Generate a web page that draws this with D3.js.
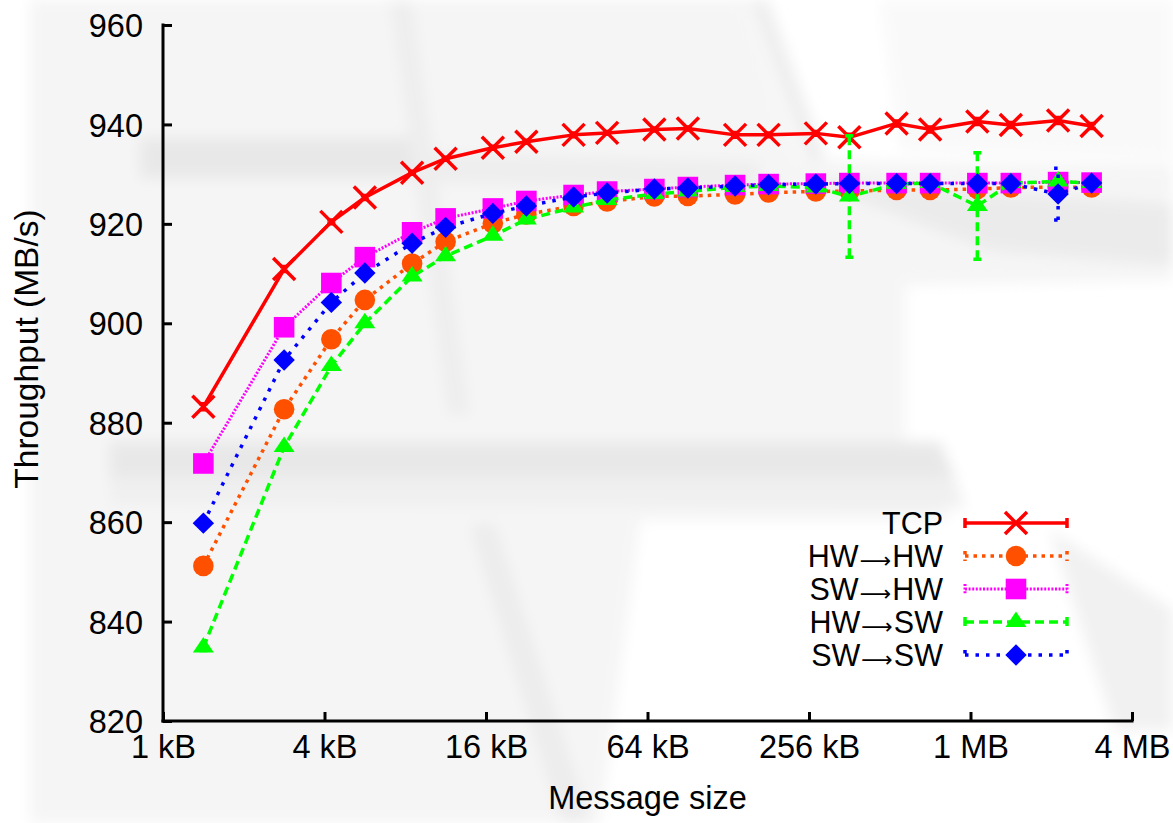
<!DOCTYPE html>
<html>
<head>
<meta charset="utf-8">
<script src="https://cdn.jsdelivr.net/npm/d3@7"></script>
<style>
  html, body { margin: 0; padding: 0; background: #ffffff; }
  svg { display: block; }
  text { font-family: "Liberation Sans", Arial, Helvetica, sans-serif; fill: #000; }
  .arrow { font-family: "DejaVu Sans", sans-serif; }
</style>
</head>
<body>
<svg id="chart" width="1173" height="823"></svg>
<script>
// Message sizes in bytes (multiples of one 1448-byte segment)
const messageSize = [1448, 2896, 4344, 5792, 8688, 11584, 17376, 23168, 34752, 46336, 69504,
  92672, 139008, 185344, 278016, 370688, 556032, 741376, 1112064, 1482752, 2224128, 2965504];

// Throughput in MB/s
const tcp   = [883.2, 910.9, 920.4, 925.3, 930.3, 933.1, 935.3, 936.5, 937.9, 938.3, 939.0,
  939.2, 937.9, 937.9, 938.2, 937.4, 940.2, 939.0, 940.6, 939.9, 940.8, 939.7];
const hwHw  = [851.2, 882.7, 896.8, 904.7, 912.0, 916.4, 920.1, 921.9, 923.6, 924.5, 925.5,
  925.6, 925.9, 926.3, 926.5, 926.6, 926.8, 926.8, 927.0, 927.3, 927.4, 927.3];
const swHw  = [871.8, 899.2, 908.1, 913.3, 918.3, 921.1, 923.1, 924.6, 925.8, 926.5, 927.0,
  927.4, 927.8, 928.0, 928.1, 928.2, 928.2, 928.2, 928.2, 928.2, 928.4, 928.3];
const hwSw  = [834.8, 875.1, 891.4, 900.0, 909.4, 913.5, 917.6, 920.9, 923.3, 924.8, 926.0,
  926.5, 927.4, 927.6, 927.3, 925.5, 928.0, 928.2, 923.6, 928.2, 928.5, 928.2];
const swSw  = [859.8, 892.6, 904.2, 910.1, 916.1, 919.3, 922.1, 923.6, 925.4, 926.2, 927.0,
  927.2, 927.6, 927.9, 928.0, 928.1, 928.1, 928.1, 928.1, 928.1, 926.0, 928.2];

// Standard deviation (MB/s) per point
const tcpErr  = [0.6, 0.5, 0.4, 0.4, 0.3, 0.3, 0.3, 0.3, 0.4, 0.3, 0.3,
  0.3, 0.5, 0.4, 0.4, 0.6, 0.5, 0.5, 0.6, 0.5, 0.6, 0.5];
const hwHwErr = [0.5, 0.4, 0.4, 0.3, 0.3, 0.3, 0.3, 0.3, 0.3, 0.3, 0.3,
  0.3, 0.3, 0.3, 0.3, 0.3, 0.3, 0.3, 0.4, 0.3, 0.3, 0.3];
const swHwErr = [0.5, 0.4, 0.4, 0.3, 0.3, 0.3, 0.3, 0.3, 0.3, 0.3, 0.3,
  0.3, 0.3, 0.3, 0.3, 0.3, 0.3, 0.3, 0.3, 0.3, 0.3, 0.3];
const hwSwErr = [0.6, 0.5, 0.4, 0.4, 0.3, 0.3, 0.3, 0.3, 0.3, 0.3, 0.3,
  0.3, 0.3, 0.3, 0.4, 12.2, 0.3, 0.3, 10.7, 0.3, 0.5, 0.3];
const swSwErr = [0.5, 0.4, 0.4, 0.3, 0.3, 0.3, 0.3, 0.3, 0.3, 0.3, 0.3,
  0.3, 0.3, 0.3, 0.3, 0.3, 0.3, 0.3, 0.3, 0.3, 5.2, 0.3];

// Legend labels: source and destination joined by an arrow
const seriesFrom = ["TCP", "HW", "SW", "HW", "SW"];
const seriesTo   = [null,  "HW", "HW", "SW", "SW"];

const xTickValues = [1024, 4096, 16384, 65536, 262144, 1048576, 4194304];
const xTickLabels = ["1 kB", "4 kB", "16 kB", "64 kB", "256 kB", "1 MB", "4 MB"];
const yTickValues = [820, 840, 860, 880, 900, 920, 940, 960];

const xTitle = "Message size";
const yTitle = "Throughput (MB/s)";

// ---------------------------------------------------------------------------
const svg = d3.select("#chart");
const plot = { left: 163, right: 1132, top: 25, bottom: 721 };
const fontSize = 32.5;

const x = d3.scaleLog().base(2).domain([1024, 4194304]).range([plot.left, plot.right]);
const y = d3.scaleLinear().domain([820, 960]).range([plot.bottom, plot.top]);

// Faded backdrop: soft grey planes and shadows
const defs = svg.append("defs");
defs.append("filter").attr("id", "soft").attr("x", "-10%").attr("y", "-10%")
  .attr("width", "120%").attr("height", "120%")
  .append("feGaussianBlur").attr("stdDeviation", 7);

const backdrop = [
  { fill: "#f5f5f5", pts: [[30,0],[745,0],[800,160],[1173,165],[1173,280],[905,285],[905,440],[950,520],[640,520],[600,823],[30,823]] },
  { fill: "#f9f9f9", pts: [[880,0],[1173,0],[1173,160],[900,150]] },
  { fill: "#e8e8e8", pts: [[140,138],[415,138],[415,178],[140,178]] },
  { fill: "#eeeeee", pts: [[415,152],[760,162],[760,190],[415,182]] },
  { fill: "#e8e8e8", pts: [[110,442],[940,442],[955,478],[110,478]] },
  { fill: "#f0f0f0", pts: [[110,478],[955,478],[965,508],[110,505]] },
  { fill: "#eeeeee", pts: [[390,0],[412,0],[470,415],[448,415]] },
  { fill: "#ececec", pts: [[470,525],[495,525],[590,823],[562,823]] },
  { fill: "#eeeeee", pts: [[748,0],[768,0],[826,160],[806,160]] },
  { fill: "#ebebeb", pts: [[800,178],[1173,205],[1173,265],[990,250]] },
  { fill: "#f1f1f1", pts: [[1050,530],[1173,610],[1173,730],[1115,730]] }
];
const bg = svg.append("g").attr("filter", "url(#soft)");
backdrop.forEach(s => bg.append("polygon")
  .attr("points", s.pts.map(p => p.join(",")).join(" "))
  .attr("fill", s.fill));

// Axes: left and bottom only, ticks pointing inward
const xAxis = svg.append("g").attr("transform", `translate(0,${plot.bottom})`)
  .call(d3.axisBottom(x).tickValues(xTickValues).tickSize(-9).tickPadding(14)
    .tickFormat((d, i) => xTickLabels[i]));
const yAxis = svg.append("g").attr("transform", `translate(${plot.left},0)`)
  .call(d3.axisLeft(y).tickValues(yTickValues).tickSize(-9).tickPadding(20)
    .tickFormat(d3.format("d")));
[xAxis, yAxis].forEach(g => {
  g.select(".domain").attr("stroke", "#000").attr("stroke-width", 3)
    .attr("stroke-linecap", "square");
  g.selectAll(".tick line").attr("stroke", "#000").attr("stroke-width", 3);
  g.selectAll(".tick text").attr("font-size", fontSize)
    .style("font-family", '"Liberation Sans", Arial, sans-serif').attr("fill", "#000");
});
xAxis.select(".domain").attr("d", `M${plot.left},0H${plot.right}`);
yAxis.select(".domain").attr("d", `M0,${plot.bottom}V${plot.top}`);
xAxis.selectAll(".tick text").attr("dy", "0.7em");
yAxis.selectAll(".tick text").attr("dy", "0.36em");

svg.append("text").attr("x", (plot.left + plot.right) / 2).attr("y", 809)
  .attr("text-anchor", "middle").attr("font-size", fontSize).text(xTitle);
svg.append("text").attr("transform", `translate(38,349) rotate(-90)`)
  .attr("text-anchor", "middle").attr("font-size", fontSize + 1).text(yTitle);

// Marker shapes
const markerPath = {
  cross:    "M-11,-11L11,11M-11,11L11,-11",
  circle:   d3.symbol(d3.symbolCircle, Math.PI * 10.3 * 10.3)(),
  square:   "M-10.3,-10.3H10.3V10.3H-10.3Z",
  triangle: "M0,-10.5L10.5,5L-10.5,5Z",
  diamond:  "M0,-10.7L10.7,0L0,10.7L-10.7,0Z"
};

const series = [
  { values: tcp,  err: tcpErr,  color: "#ff0000", dash: null,    width: 3.5, marker: "cross" },
  { values: hwHw, err: hwHwErr, color: "#ff5000", dash: "3.5,5", width: 3.5, marker: "circle" },
  { values: swHw, err: swHwErr, color: "#ff00ff", dash: "2,1.6", width: 3,   marker: "square" },
  { values: hwSw, err: hwSwErr, color: "#00ff00", dash: "9,5",   width: 3.5, marker: "triangle" },
  { values: swSw, err: swSwErr, color: "#0000ff", dash: "3.5,7", width: 3.5, marker: "diamond" }
];

function drawMarker(g, s, cx, cy) {
  const p = g.append("path").attr("d", markerPath[s.marker])
    .attr("transform", `translate(${cx},${cy})`);
  if (s.marker === "cross") {
    p.attr("fill", "none").attr("stroke", s.color).attr("stroke-width", 3.5);
  } else {
    p.attr("fill", s.color).attr("stroke", "none");
  }
}

const line = d3.line().x(d => x(d.size)).y(d => y(d.v));
const capHalf = 4;

series.forEach(s => {
  const pts = messageSize.map((size, i) => ({ size, v: s.values[i], e: s.err[i] }));
  const g = svg.append("g");
  pts.forEach(d => {
    const cx = x(d.size), y0 = y(d.v - d.e), y1 = y(d.v + d.e);
    g.append("path")
      .attr("d", `M${cx},${y0}V${y1}M${cx - capHalf},${y1}H${cx + capHalf}M${cx - capHalf},${y0}H${cx + capHalf}`)
      .attr("fill", "none").attr("stroke", s.color).attr("stroke-width", s.width)
      .attr("stroke-dasharray", s.dash);
  });
  g.append("path").datum(pts).attr("d", line)
    .attr("fill", "none").attr("stroke", s.color).attr("stroke-width", s.width)
    .attr("stroke-dasharray", s.dash).attr("stroke-linejoin", "round");
  pts.forEach(d => drawMarker(g, s, x(d.size), y(d.v)));
});

// Legend
const legend = svg.append("g");
const legendRowY = [523, 556, 589, 622, 655];
const sampleX0 = 965, sampleX1 = 1067, sampleMid = 1016, textRight = 943;
series.forEach((s, i) => {
  const ly = legendRowY[i];
  const t = legend.append("text").attr("x", textRight).attr("y", ly).attr("dy", "0.36em")
    .attr("text-anchor", "end").attr("font-size", 30.5);
  t.append("tspan").text(seriesFrom[i]);
  if (seriesTo[i]) {
    t.append("tspan").attr("class", "arrow").attr("font-size", 22)
      .attr("dx", 1).attr("dy", 1.5).text("\u27F6");
    t.append("tspan").attr("dx", 1).attr("dy", -1.5).text(seriesTo[i]);
  }
  legend.append("path")
    .attr("d", `M${sampleX0},${ly}H${sampleX1}M${sampleX0},${ly - 5}V${ly + 5}M${sampleX1},${ly - 5}V${ly + 5}`)
    .attr("fill", "none").attr("stroke", s.color).attr("stroke-width", s.width)
    .attr("stroke-dasharray", s.dash);
  drawMarker(legend, s, sampleMid, ly);
});
</script>
</body>
</html>
